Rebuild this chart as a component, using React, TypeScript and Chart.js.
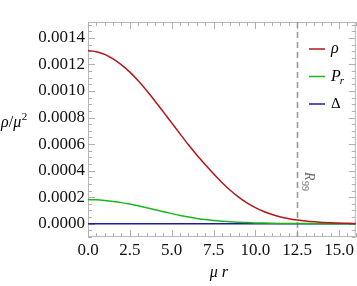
import React, { useEffect, useRef } from "react";
import { Chart, registerables } from "chart.js";

Chart.register(...registerables);

// radial coordinate (μ r)
const rValues = [0, 0.5, 1, 1.5, 2, 2.5, 3, 3.5, 4, 4.5, 5, 5.5, 6, 6.5, 7, 7.5, 8, 8.5, 9, 9.5, 10, 10.5, 11, 11.5, 12, 12.5, 13, 13.5, 14, 14.5, 15, 15.5, 16];
// ρ/μ²
const rhoValues = [0.001305, 0.001296, 0.001276, 0.001242, 0.001197, 0.001142, 0.001077, 0.001004, 0.000925, 0.000843, 0.00076, 0.000677, 0.000595, 0.000518, 0.000446, 0.000376, 0.000311, 0.000252, 0.0002, 0.000157, 0.000121, 0.000092, 0.000069, 0.000051, 0.000038, 0.000028, 0.00002, 0.000014, 0.00001, 0.000007, 0.000005, 0.000003, 0.000002];
// P_r/μ²
const prValues = [0.000182, 0.00018, 0.000175, 0.000168, 0.000159, 0.000148, 0.000135, 0.000121, 0.000106, 0.000091, 0.000076, 0.000062, 0.00005, 0.00004, 0.000031, 0.000024, 0.000019, 0.000015, 0.000011, 0.0000085, 0.0000063, 0.0000046, 0.0000033, 0.0000024, 0.0000017, 0.0000012, 0.0000008, 0.0000005, 0.0000003, 0.0000002, 0.0000001, 0.0000001, 0];
// Δ/μ²
const deltaValues = [0, 0, 0, 0, 0, 0, 0, 0, 0, 0, 0, 0, 0, 0, 0, 0, 0, 0, 0, 0, 0, 0, 0, 0, 0, 0, 0, 0, 0, 0, 0, 0, 0];

const xTicks = [0, 2.5, 5, 7.5, 10, 12.5, 15];
const yTicks = [0, 0.0002, 0.0004, 0.0006, 0.0008, 0.001, 0.0012, 0.0014];
const xMinorStep = 0.5;
const yMinorStep = 0.00005;
const r99 = 12.5;

const seriesNames = ["ρ", "P", "Δ"];
const seriesColors = ["#b3161b", "#1db51d", "#1c1c9c"];

const FONT = "'Liberation Serif', 'DejaVu Serif', serif";

const framePlugin = {
  id: "frame",
  beforeDatasetsDraw(chart: any) {
    const { ctx, chartArea: a, scales } = chart;
    const xs = scales.x;
    const ys = scales.y;
    ctx.save();
    ctx.strokeStyle = "#b8b8b8";
    ctx.lineWidth = 1;
    ctx.strokeRect(a.left + 0.5, a.top + 0.5, a.right - a.left - 1, a.bottom - a.top - 1);
    ctx.strokeStyle = "#b0b0b0";
    ctx.beginPath();
    for (let v = xs.min; v <= xs.max + 1e-9; v += xMinorStep) {
      const major = xTicks.some((t) => Math.abs(t - v) < 1e-9);
      const len = major ? 7 : 4;
      const px = Math.round(xs.getPixelForValue(v)) + 0.5;
      ctx.moveTo(px, a.bottom);
      ctx.lineTo(px, a.bottom - len);
      ctx.moveTo(px, a.top);
      ctx.lineTo(px, a.top + len);
    }
    const start = Math.ceil(ys.min / yMinorStep);
    const end = Math.floor(ys.max / yMinorStep);
    for (let i = start; i <= end; i++) {
      const v = i * yMinorStep;
      const major = i % 4 === 0;
      const len = major ? 7 : 4;
      const py = Math.round(ys.getPixelForValue(v)) + 0.5;
      ctx.moveTo(a.left, py);
      ctx.lineTo(a.left + len, py);
      ctx.moveTo(a.right, py);
      ctx.lineTo(a.right - len, py);
    }
    ctx.stroke();
    const rx = Math.round(xs.getPixelForValue(r99)) + 0.5;
    ctx.strokeStyle = "#9a9a9a";
    ctx.lineWidth = 1.6;
    ctx.setLineDash([6, 4]);
    ctx.beginPath();
    ctx.moveTo(rx, a.top);
    ctx.lineTo(rx, a.bottom);
    ctx.stroke();
    ctx.setLineDash([]);
    ctx.restore();
  },
  afterDraw(chart: any) {
    const { ctx, chartArea: a, scales } = chart;
    const xs = scales.x;
    ctx.save();
    const rx = xs.getPixelForValue(r99);
    ctx.translate(rx + 8, 172);
    ctx.rotate(Math.PI / 2);
    ctx.fillStyle = "#6a6a6a";
    ctx.textBaseline = "alphabetic";
    ctx.font = `italic 14px ${FONT}`;
    ctx.fillText("R", 0, 0);
    const rw = ctx.measureText("R").width;
    ctx.font = `10px ${FONT}`;
    ctx.fillText("99", rw + 0.5, 3);
    ctx.restore();

    ctx.save();
    const ly = [49, 76.5, 104];
    for (let i = 0; i < 3; i++) {
      ctx.strokeStyle = seriesColors[i];
      ctx.lineWidth = 1.5;
      ctx.beginPath();
      ctx.moveTo(309, ly[i]);
      ctx.lineTo(325, ly[i]);
      ctx.stroke();
      ctx.fillStyle = "#000";
      ctx.textBaseline = "middle";
      if (i === 2) {
        ctx.font = `15px ${FONT}`;
        ctx.fillText(seriesNames[i], 331, ly[i]);
      } else {
        ctx.font = `italic 16px ${FONT}`;
        ctx.fillText(seriesNames[i], 331, ly[i]);
        if (i === 1) {
          const w = ctx.measureText(seriesNames[i]).width;
          ctx.font = `italic 11px ${FONT}`;
          ctx.fillText("r", 331 + w - 1, ly[i] + 5);
        }
      }
    }
    ctx.textBaseline = "alphabetic";
    ctx.font = `italic 16px ${FONT}`;
    let x = 1;
    const by = 127;
    ctx.fillText("ρ", x, by);
    x += ctx.measureText("ρ").width;
    ctx.font = `16px ${FONT}`;
    ctx.fillText("/", x, by);
    x += ctx.measureText("/").width;
    ctx.font = `italic 16px ${FONT}`;
    ctx.fillText("μ", x, by);
    x += ctx.measureText("μ").width;
    ctx.font = `11px ${FONT}`;
    ctx.fillText("2", x + 0.5, by - 7);
    ctx.font = `italic 16px ${FONT}`;
    ctx.textAlign = "center";
    ctx.fillText("μ r", (a.left + a.right) / 2 - 3, 277);
    ctx.restore();
  },
};

export default function App() {
  const ref = useRef<HTMLCanvasElement>(null);
  useEffect(() => {
    const canvas = ref.current;
    if (!canvas) return;
    const tickFont = { family: FONT, size: 17 };
    const chart = new Chart(canvas, {
      type: "line",
      data: {
        datasets: [rhoValues, prValues, deltaValues].map((vals, i) => ({
          label: seriesNames[i],
          data: rValues.map((r, j) => ({ x: r, y: vals[j] })),
          borderColor: seriesColors[i],
          borderWidth: 1.5,
          pointRadius: 0,
          fill: false,
          cubicInterpolationMode: "monotone" as const,
        })),
      },
      plugins: [framePlugin],
      options: {
        responsive: false,
        animation: false,
        devicePixelRatio: 1,
        layout: { padding: { top: 22, right: 1, left: 0, bottom: 0 } },
        plugins: { legend: { display: false }, tooltip: { enabled: false }, title: { display: false } },
        scales: {
          x: {
            type: "linear",
            min: 0,
            max: 16,
            afterBuildTicks: (s: any) => {
              s.ticks = xTicks.map((v) => ({ value: v }));
            },
            afterFit: (s: any) => {
              s.height = 49;
            },
            ticks: {
              callback: (v: any) => Number(v).toFixed(1),
              font: tickFont,
              color: "#111",
              padding: 3,
              maxRotation: 0,
              autoSkip: false,
            },
            grid: { display: false, drawTicks: false },
            border: { display: false },
          },
          y: {
            type: "linear",
            min: -0.0001,
            max: 0.00152,
            afterBuildTicks: (s: any) => {
              s.ticks = yTicks.map((v) => ({ value: v }));
            },
            afterFit: (s: any) => {
              s.width = 88;
            },
            ticks: {
              callback: (v: any) => Number(v).toFixed(4),
              font: tickFont,
              color: "#111",
              padding: 3,
              autoSkip: false,
            },
            grid: { display: false, drawTicks: false },
            border: { display: false },
          },
        },
      },
    });
    return () => chart.destroy();
  }, []);
  return (
    <div style={{ position: "fixed", left: 0, top: 0, width: 357, height: 286, background: "#fff" }}>
      <canvas ref={ref} width={357} height={286} style={{ display: "block" }} />
    </div>
  );
}
